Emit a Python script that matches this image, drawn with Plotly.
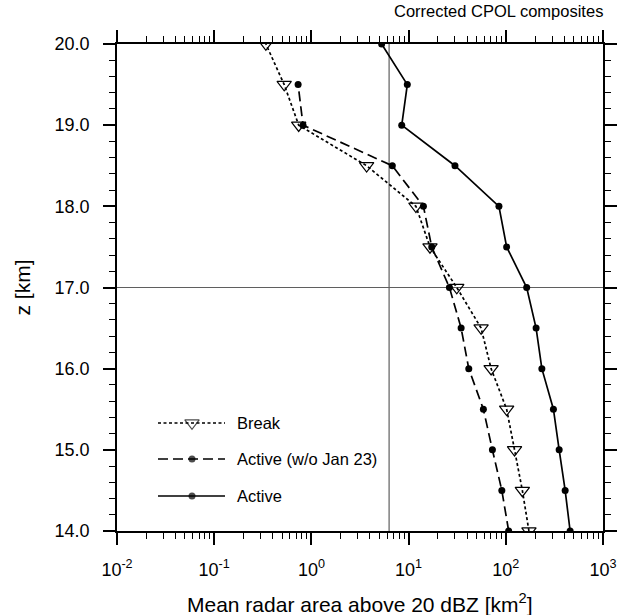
import plotly.graph_objects as go

# ---------------- data ----------------
z_km = [14.0, 14.5, 15.0, 15.5, 16.0, 16.5, 17.0, 17.5, 18.0, 18.5, 19.0, 19.5, 20.0]
break_area = [173, 148, 123, 102, 70.6, 55.7, 31.3, 16.6, 11.9, 3.7, 0.74, 0.525, 0.34]
active_wo_jan23 = [107, 91, 72.8, 58.8, 41.6, 34.7, 26.3, 17.3, 14.2, 6.8, 0.82, 0.73, None]
active_area = [459, 408, 354, 309, 235, 205, 164, 102, 85, 30, 8.5, 9.7, 5.28]

ref_x = 6.3      # vertical reference line (km^2)
ref_z = 17.0     # horizontal reference line (km)

x_tickvals = [0.01, 0.1, 1, 10, 100, 1000]
x_ticktext = ["10<sup>-2</sup>", "10<sup>-1</sup>", "10<sup>0</sup>",
              "10<sup>1</sup>", "10<sup>2</sup>", "10<sup>3</sup>"]
x_minor = [m * d for d in [0.01, 0.1, 1, 10, 100] for m in range(2, 10)]

series_names = ["Break", "Active (w/o Jan 23)", "Active"]

# ---------------- layout constants ----------------
W, H = 618, 615
ML, MR, MT, MB = 117, 15, 44, 84
FONT = "Liberation Sans, Arial, Helvetica, sans-serif"
LW = 1.7

styles = [
    dict(dash="3px,2.5px", symbol="triangle-down-open", size=12.5, mlw=1.2),
    dict(dash="10px,5px", symbol="circle", size=7, mlw=0),
    dict(dash="solid", symbol="circle", size=7, mlw=0),
]

fig = go.Figure()

# reference lines
fig.add_trace(go.Scatter(x=[ref_x, ref_x], y=[z_km[0], z_km[-1]], mode="lines",
                         line=dict(color="#5f5f5f", width=1.2), showlegend=False,
                         hoverinfo="skip"))
fig.add_trace(go.Scatter(x=[x_tickvals[0], x_tickvals[-1]], y=[ref_z, ref_z], mode="lines",
                         line=dict(color="#5f5f5f", width=1.2), showlegend=False,
                         hoverinfo="skip"))

for name, vals, st in zip(series_names, [break_area, active_wo_jan23, active_area], styles):
    fig.add_trace(go.Scatter(
        x=vals, y=z_km, mode="lines+markers", name=name, showlegend=False,
        line=dict(color="black", width=LW, dash=st["dash"]),
        marker=dict(symbol=st["symbol"], size=st["size"], color="black",
                    line=dict(color="black", width=st["mlw"])),
        connectgaps=False,
    ))

# custom legend on an overlay axis spanning [0,1]
PW = W - ML - MR
PH = H - MT - MB
leg_x = [(158 - ML) / PW, (192 - ML) / PW, (225 - ML) / PW]
leg_y = [(531 - 423) / PH, (531 - 459) / PH, (531 - 496) / PH]
text_x = (235 - ML) / PW
annotations = []
for name, st, ly in zip(series_names, styles, leg_y):
    fig.add_trace(go.Scatter(
        x=leg_x, y=[ly, ly, ly], xaxis="x2", yaxis="y2", mode="lines+markers",
        showlegend=False, hoverinfo="skip",
        line=dict(color="black", width=LW, dash=st["dash"]),
        marker=dict(symbol=st["symbol"], size=[0, st["size"], 0], color="black",
                    line=dict(color="black", width=st["mlw"])),
    ))
    annotations.append(dict(x=text_x, y=ly, xref="paper", yref="paper", text=name,
                            showarrow=False, xanchor="left", yanchor="middle",
                            font=dict(family=FONT, size=16.5, color="black")))

# titles
annotations.append(dict(x=0.5, y=0, xref="paper", yref="paper",
                        text="Mean radar area above 20 dBZ [km<sup>2</sup>]",
                        showarrow=False, xanchor="center", yanchor="middle", yshift=-72,
                        font=dict(family=FONT, size=21, color="black")))
annotations.append(dict(x=0, y=0.5, xref="paper", yref="paper", text="z [km]",
                        showarrow=False, xanchor="center", yanchor="middle", xshift=-95,
                        textangle=-90, font=dict(family=FONT, size=21, color="black")))
annotations.append(dict(x=1, y=1, xref="paper", yref="paper", text="Corrected CPOL composites",
                        showarrow=False, xanchor="right", yanchor="middle", yshift=33, xshift=2,
                        font=dict(family=FONT, size=16.5, color="black")))

axis_common = dict(showgrid=False, zeroline=False, showline=True, linecolor="black",
                   linewidth=1.8, mirror="allticks", ticks="outside", ticklen=12,
                   tickwidth=1.5, tickcolor="black", automargin=False,
                   tickfont=dict(family=FONT, size=18, color="black"))

fig.update_layout(
    width=W, height=H,
    margin=dict(l=ML, r=MR, t=MT, b=MB, autoexpand=False),
    paper_bgcolor="white", plot_bgcolor="white",
    showlegend=False,
    xaxis=dict(type="log", range=[-2, 3], tickmode="array", tickvals=x_tickvals,
               ticktext=x_ticktext, ticklabelstandoff=9,
               minor=dict(tickmode="array", tickvals=x_minor, ticks="outside",
                          ticklen=6, tickwidth=1.2, tickcolor="black"),
               **axis_common),
    yaxis=dict(range=[14, 20], tick0=14, dtick=1, tickformat=".1f",
               ticklabelstandoff=10,
               minor=dict(dtick=0.2, ticks="outside", ticklen=6, tickwidth=1.2,
                          tickcolor="black"),
               **axis_common),
    xaxis2=dict(overlaying="x", range=[0, 1], visible=False, fixedrange=True),
    yaxis2=dict(overlaying="y", range=[0, 1], visible=False, fixedrange=True),
    annotations=annotations,
)

fig.write_html("out.html")
